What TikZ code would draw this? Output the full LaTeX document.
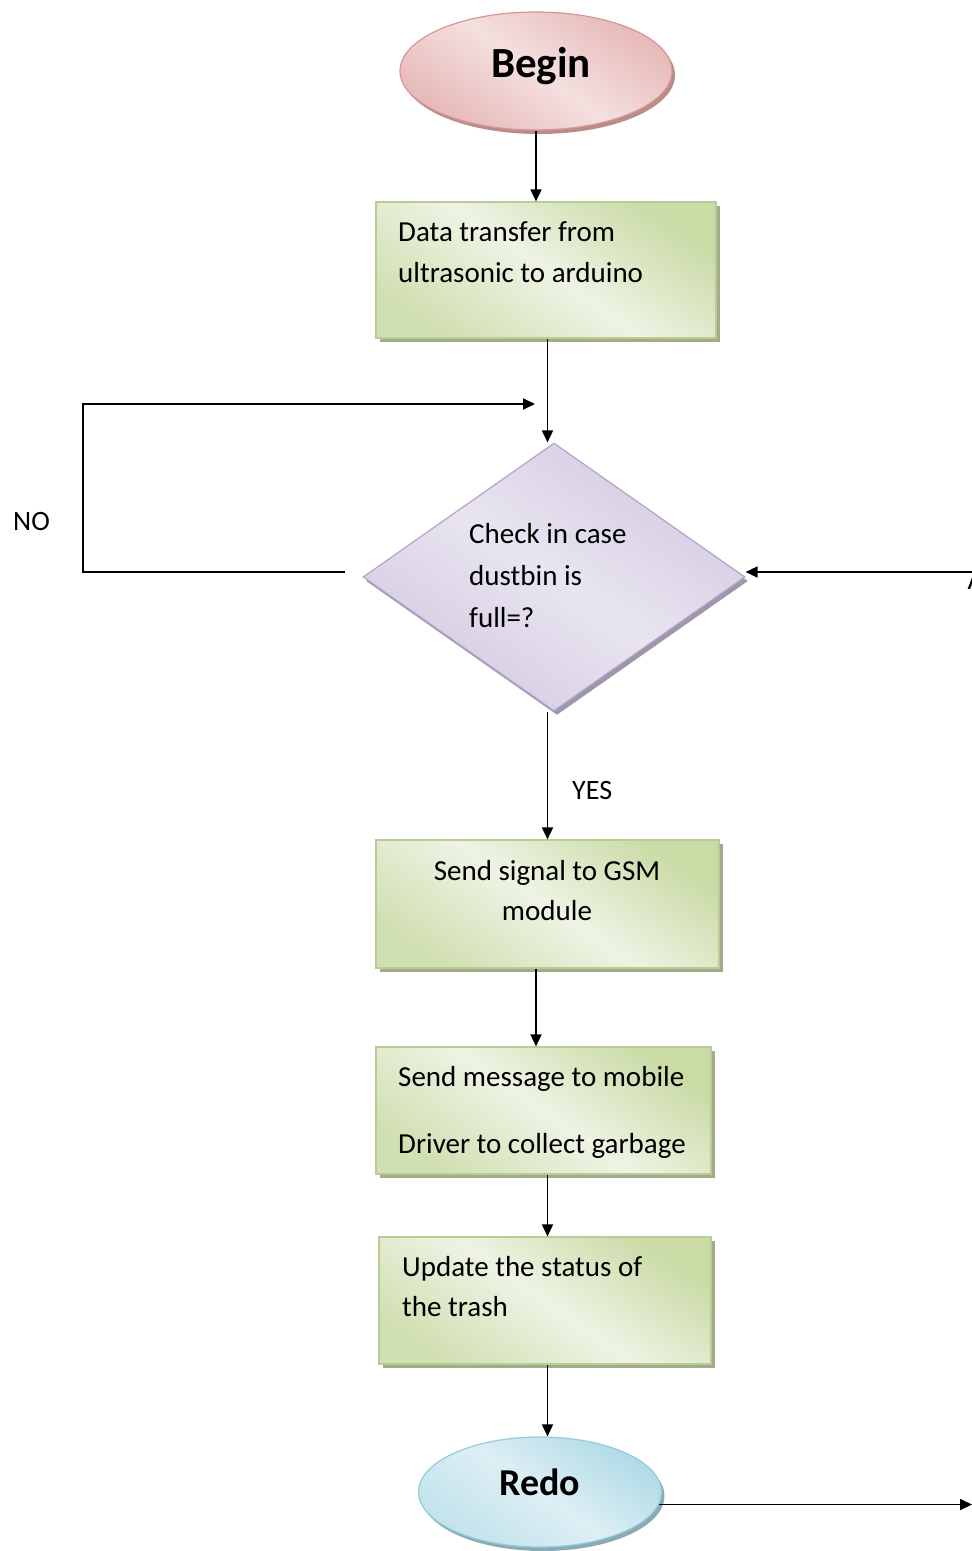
\documentclass[tikz,border=0pt]{standalone}
\usepackage{fontspec}
\setmainfont{Carlito}
\usetikzlibrary{shapes.geometric,arrows.meta,shadows,calc}
\definecolor{gdark}{HTML}{CADBA6}
\definecolor{glight}{HTML}{EEF3E4}
\definecolor{gborder}{HTML}{B8CC93}
\definecolor{gshadow}{HTML}{A2AC8A}
\definecolor{pdark}{HTML}{D3CAE2}
\definecolor{plight}{HTML}{E9E5F0}
\definecolor{pborder}{HTML}{B3A3C9}
\definecolor{pshadow}{HTML}{9E97A9}
\definecolor{rdark}{HTML}{E6B9B8}
\definecolor{rlight}{HTML}{F4E0DF}
\definecolor{rborder}{HTML}{D99694}
\definecolor{rshadow}{HTML}{B98C8B}
\definecolor{bdark}{HTML}{B0DAE6}
\definecolor{blight}{HTML}{DDEFF4}
\definecolor{bborder}{HTML}{92CDDC}
\definecolor{bshadow}{HTML}{8CAAB3}
\begin{document}
\begin{tikzpicture}[x=1pt,y=-1pt,
  arr/.style={line width=1.8pt,-{Triangle[length=12pt,width=11pt]}},
  stepbox/.style={rectangle,draw=gborder,line width=1.2pt,inner sep=0pt,
    shading=axis,top color=gdark,bottom color=gdark!80!glight,middle color=glight,shading angle=-35,
    drop shadow={shadow xshift=4pt,shadow yshift=-4pt,fill=gshadow,opacity=1}},
  decbox/.style={diamond,draw=pborder,line width=1.2pt,inner sep=0pt,
    shading=axis,top color=pdark,bottom color=pdark,middle color=plight,shading angle=-35,
    drop shadow={shadow xshift=3pt,shadow yshift=-4pt,fill=pshadow,opacity=1}},
  beginbox/.style={ellipse,draw=rborder,line width=1.2pt,inner sep=0pt,
    shading=axis,top color=rdark,bottom color=rdark,middle color=rlight,shading angle=-35,
    drop shadow={shadow xshift=3pt,shadow yshift=-4pt,fill=rshadow,opacity=1}},
  redobox/.style={ellipse,draw=bborder,line width=1.2pt,inner sep=0pt,
    shading=axis,top color=bdark,bottom color=bdark!60!blight,middle color=blight,shading angle=-35,
    drop shadow={shadow xshift=3pt,shadow yshift=-4pt,fill=bshadow,opacity=1}},
  txt/.style={inner sep=0pt,font=\fontsize{29}{41}\selectfont},
  lbl/.style={inner sep=0pt,font=\fontsize{28}{34}\selectfont}
]
\useasboundingbox (0,0) rectangle (972,1551);
\fill[white] (0,0) rectangle (972,1551);

% shapes
\node[beginbox,minimum width=272pt,minimum height=118pt] (begin) at (536,71) {};
\node[stepbox,minimum width=340pt,minimum height=136pt] (b1) at (546,270) {};
\node[decbox,minimum width=382pt,minimum height=268pt] (dia) at (554,577) {};
\node[stepbox,minimum width=343pt,minimum height=128pt] (b2) at (547.5,904) {};
\node[stepbox,minimum width=335pt,minimum height=127pt] (b3) at (543.5,1110.5) {};
\node[stepbox,minimum width=332pt,minimum height=127pt] (b4) at (545,1300.5) {};
\node[redobox,minimum width=243pt,minimum height=110pt] (redo) at (540,1492) {};

% texts
\node[inner sep=0pt,font=\fontsize{43}{48}\selectfont\bfseries,anchor=base] (tbegin) at (541,77) {Begin};
\node[txt,anchor=base west] (t1a) at (398,241) {Data transfer from};
\node[txt,anchor=base west] (t1b) at (398,282) {ultrasonic to arduino};
\node[txt,anchor=base west] (tda) at (469,543) {Check in case};
\node[txt,anchor=base west] (tdb) at (469,585) {dustbin is};
\node[txt,anchor=base west] (tdc) at (469,627) {full=?};
\node[txt,anchor=base] (t2a) at (547,880) {Send signal to GSM};
\node[txt,anchor=base] (t2b) at (547,920) {module};
\node[txt,anchor=base west] (t3a) at (398,1086) {Send message to mobile};
\node[txt,anchor=base west] (t3b) at (398,1153) {Driver to collect garbage};
\node[txt,anchor=base west] (t4a) at (402,1276) {Update the status of};
\node[txt,anchor=base west] (t4b) at (402,1316) {the trash};
\node[inner sep=0pt,font=\fontsize{38}{44}\selectfont\bfseries,anchor=base] (tredo) at (540,1495) {Redo};
\node[lbl,anchor=base west] (no) at (13,530) {NO};
\node[lbl,anchor=base west] (yes) at (572,799) {YES};
\node[lbl,anchor=base west] (aclip) at (967.5,589) {A};

% coordinates
\coordinate (nos) at (345,572);
\coordinate (nol) at (83,572);
\coordinate (nou) at (83,404);
\coordinate (noe) at (535,404);
\coordinate (rin) at (972,572);
\coordinate (rout) at (972,1505);

% connectors
\draw[arr] (begin.south) -- (begin.south |- b1.north);
\draw[arr] (b1.south -| b2.north) -- (dia.north -| b2.north);
\draw[arr] (nos) -- (nol) -- (nou) -- (noe);
\draw[arr] (rin) -- (rin -| dia.east);
\draw[arr] (dia.south -| b2.north) -- (b2.north);
\draw[arr] (b2.south -| begin.south) -- (b3.north -| begin.south);
\draw[arr] (b3.south -| b2.north) -- (b4.north -| b2.north);
\draw[arr] (b4.south -| b2.north) -- (redo.north -| b2.north);
\draw[arr] (redo.-6.3) -- (redo.-6.3 -| rout);
\end{tikzpicture}
\end{document}
